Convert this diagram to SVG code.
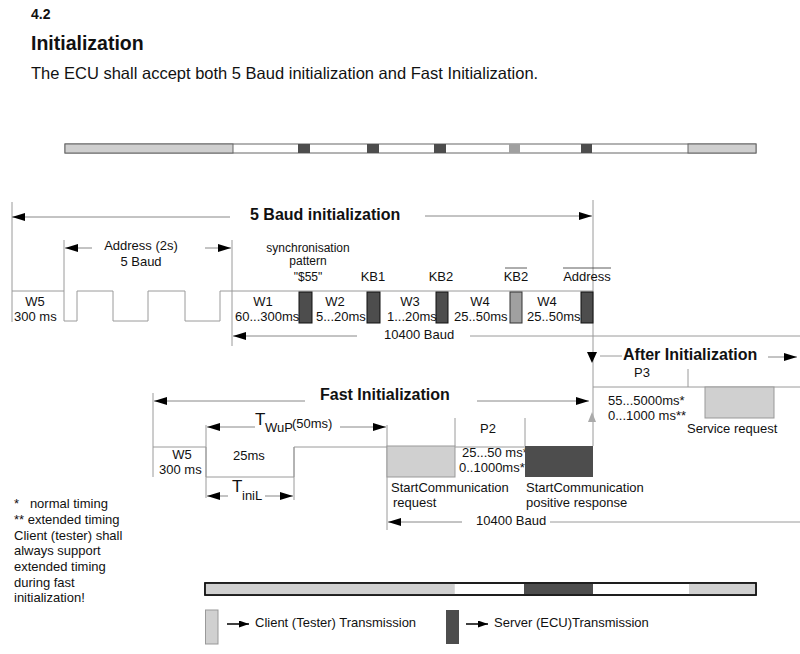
<svg xmlns="http://www.w3.org/2000/svg" width="800" height="654" viewBox="0 0 800 654">
<defs>
<marker id="ah" markerUnits="userSpaceOnUse" markerWidth="13" markerHeight="8" refX="13" refY="4" orient="auto">
<path d="M0,0 L13,4 L0,8 z" fill="#000"/>
</marker>
<marker id="ahs" markerUnits="userSpaceOnUse" markerWidth="10" markerHeight="7" refX="10" refY="3.5" orient="auto">
<path d="M0,0 L10,3.5 L0,7 z" fill="#000"/>
</marker>
<style>
text{font-family:"Liberation Sans",Arial,sans-serif;fill:#111}
.t{font-size:13px}
.s{font-size:12px}
.b{font-size:16px;font-weight:bold}
.m{text-anchor:middle}
.ln{stroke:#9a9a9a;stroke-width:1;fill:none}
.ar{stroke:#888;stroke-width:1;fill:none;marker-end:url(#ah)}
.dk{fill:#4d4d4d;stroke:#111;stroke-width:1}
.md{fill:#a0a0a0;stroke:#333;stroke-width:1}
.lt{fill:#d0d0d0;stroke:#999;stroke-width:1}
</style>
</defs>
<rect width="800" height="654" fill="#fff"/>

<g id="header">
<text x="31" y="19" style="font-size:14px;font-weight:bold">4.2</text>
<text x="31" y="50" style="font-size:19.5px;font-weight:bold">Initialization</text>
<text x="31" y="79" style="font-size:16.5px">The ECU shall accept both 5 Baud initialization and Fast Initialization.</text>
</g>

<g id="top-bar">
<rect x="65" y="144" width="691" height="9" fill="#fff" stroke="#666"/>
<rect x="65" y="144" width="168" height="9" fill="#cfcfcf" stroke="#666"/>
<rect x="298" y="144" width="12" height="9" fill="#4d4d4d"/>
<rect x="367" y="144" width="12" height="9" fill="#4d4d4d"/>
<rect x="434" y="144" width="12" height="9" fill="#4d4d4d"/>
<rect x="509" y="144" width="11" height="9" fill="#a0a0a0"/>
<rect x="581" y="144" width="11" height="9" fill="#4d4d4d"/>
<rect x="688" y="144" width="68" height="9" fill="#cfcfcf" stroke="#666"/>
</g>

<g id="five-baud-timeline">
<line class="ln" x1="12" y1="202" x2="12" y2="322"/>
<line class="ln" x1="64" y1="240" x2="64" y2="291"/>
<line class="ln" x1="232" y1="240" x2="232" y2="346"/>
<line class="ln" x1="593" y1="200" x2="593" y2="446"/>
<polyline class="ln" points="12,291 64,291 64,321 77,321 77,291 113,291 113,321 148,321 148,291 185,291 185,321 220,321 220,291 593,291"/>
<line class="ln" x1="470" y1="336" x2="800" y2="336"/>
<text class="b" x="250" y="220">5 Baud initialization</text>
<text class="t m" x="141" y="250">Address (2s)</text>
<text class="t m" x="141" y="266">5 Baud</text>
<text class="t m" x="35" y="306">W5</text>
<text class="t" x="14" y="321">300 ms</text>
</g>

<g id="sync-pattern">
<rect class="dk" x="299" y="292" width="13" height="31"/>
<text class="s m" x="308" y="252">synchronisation</text>
<text class="s m" x="308" y="265">pattern</text>
<text class="s m" x="308" y="281">"$55"</text>
<text class="t m" x="263" y="306">W1</text>
<text class="t" x="235" y="321">60...300ms</text>
</g>

<g id="kb1">
<rect class="dk" x="367" y="292" width="13" height="31"/>
<text class="t m" x="373" y="281">KB1</text>
<text class="t m" x="335" y="306">W2</text>
<text class="t" x="316" y="321">5...20ms</text>
</g>

<g id="kb2">
<rect class="dk" x="436" y="292" width="12" height="31"/>
<text class="t m" x="441" y="281">KB2</text>
<text class="t m" x="410" y="306">W3</text>
<text class="t" x="387" y="321">1...20ms</text>
</g>

<g id="kb2-inverted">
<rect class="md" x="510" y="292" width="12" height="31"/>
<text class="t m" x="516" y="281">KB2</text>
<line x1="505" y1="268" x2="527" y2="268" stroke="#333" stroke-width="0.8"/>
<text class="t m" x="480" y="306">W4</text>
<text class="t" x="454" y="321">25..50ms</text>
</g>

<g id="address-inverted">
<rect class="dk" x="581" y="292" width="12" height="31"/>
<text class="t m" x="587" y="281">Address</text>
<line x1="563" y1="268" x2="611" y2="268" stroke="#333" stroke-width="0.8"/>
<text class="t m" x="547" y="306">W4</text>
<text class="t" x="527" y="321">25..50ms</text>
</g>

<g id="baud-10400-top">
<text class="t" x="384" y="339">10400 Baud</text>
</g>

<g id="after-initialization">
<polygon points="587,352 597,352 592,363" fill="#000"/>
<line class="ln" x1="600" y1="356" x2="622" y2="356"/>
<text class="b" x="623" y="360">After Initialization</text>
<text class="t m" x="642" y="377">P3</text>
<line class="ln" x1="688" y1="369" x2="688" y2="387"/>
<line class="ln" x1="593" y1="387" x2="800" y2="387"/>
<text class="t" x="608" y="405">55...5000ms*</text>
<text class="t" x="608" y="420">0...1000 ms**</text>
<polygon points="592,412 596,422 588,422" fill="#aaa"/>
</g>

<g id="service-request">
<rect class="lt" x="705" y="387" width="69" height="31"/>
<text class="t" x="687" y="433">Service request</text>
</g>

<g id="fast-init-timeline">
<line class="ln" x1="153" y1="393" x2="153" y2="477"/>
<line class="ln" x1="206" y1="425" x2="206" y2="498"/>
<line class="ln" x1="294" y1="447" x2="294" y2="500"/>
<line class="ln" x1="387" y1="425" x2="387" y2="530"/>
<polyline class="ln" points="153,447 206,447 206,477 294,477 294,447 593,447"/>
<line class="ln" x1="455" y1="418" x2="455" y2="446"/>
<line class="ln" x1="525" y1="418" x2="525" y2="446"/>
<line class="ln" x1="550" y1="522" x2="800" y2="522"/>
<text class="b" x="320" y="400">Fast Initialization</text>
<text class="t m" x="182" y="459">W5</text>
<text class="t" x="159" y="474">300 ms</text>
<text x="255" y="425" style="font-size:17px">T</text>
<text class="t" x="265" y="432">WuP</text>
<text class="t" x="292" y="428">(50ms)</text>
<text class="t" x="233" y="460">25ms</text>
<text x="232" y="492" style="font-size:17px">T</text>
<text class="t" x="242" y="500">iniL</text>
<text class="t m" x="488" y="433">P2</text>
<text class="t" x="462" y="457">25...50 ms*</text>
<text class="t" x="459" y="472">0..1000ms**</text>
<text class="t" x="476" y="525">10400 Baud</text>
</g>

<g id="start-communication-request">
<rect class="lt" x="387" y="446" width="68" height="31"/>
<text class="t" x="391" y="492">StartCommunication</text>
<text class="t" x="393" y="507">request</text>
</g>

<g id="start-communication-response">
<rect x="525" y="446" width="68" height="31" fill="#4d4d4d"/>
<text class="t" x="526" y="492">StartCommunication</text>
<text class="t" x="526" y="507">positive response</text>
</g>

<g id="notes">
<text class="t" x="14" y="508" xml:space="preserve">*   normal timing</text>
<text class="t" x="14" y="524">** extended timing</text>
<text class="t" x="14" y="540">Client (tester) shall</text>
<text class="t" x="14" y="555">always support</text>
<text class="t" x="14" y="571">extended timing</text>
<text class="t" x="14" y="587">during fast</text>
<text class="t" x="14" y="602">initialization!</text>
</g>

<g id="bottom-bar">
<rect x="205" y="583" width="551" height="12" fill="#fff" stroke="#111" stroke-width="1.5"/>
<rect x="205.75" y="583.75" width="249" height="10.5" fill="#d0d0d0"/>
<rect x="524" y="583.75" width="69" height="10.5" fill="#4d4d4d"/>
<rect x="689" y="583.75" width="66.25" height="10.5" fill="#d0d0d0"/>
<rect x="205" y="583" width="551" height="12" fill="none" stroke="#111" stroke-width="1.5"/>
</g>

<g id="legend-client">
<rect class="lt" x="205.5" y="610" width="12.5" height="34"/>
<text class="t" x="255" y="627">Client (Tester) Transmission</text>
</g>

<g id="legend-server">
<rect x="446" y="610" width="13" height="34" fill="#4d4d4d"/>
<text class="t" x="494" y="627">Server (ECU)Transmission</text>
</g>

<g id="connectors">
<line class="ar" x1="230" y1="217" x2="12" y2="217"/>
<line class="ar" x1="425" y1="216" x2="592" y2="216"/>
<line class="ar" x1="92" y1="248" x2="65" y2="248"/>
<line class="ar" x1="205" y1="248" x2="231" y2="248"/>
<line class="ar" x1="357" y1="336" x2="233" y2="336"/>
<line class="ar" x1="768" y1="357" x2="797" y2="357"/>
<line class="ar" x1="305" y1="401" x2="154" y2="401"/>
<line class="ar" x1="477" y1="401" x2="589" y2="401"/>
<line class="ar" x1="255" y1="427" x2="207" y2="427"/>
<line class="ar" x1="340" y1="427" x2="386" y2="427"/>
<line class="ar" x1="228" y1="496" x2="207" y2="496"/>
<line class="ar" x1="265" y1="496" x2="293" y2="496"/>
<line class="ar" x1="462" y1="522" x2="388" y2="522"/>
<line x1="227" y1="624" x2="249" y2="624" stroke="#000" stroke-width="1.5" marker-end="url(#ahs)"/>
<line x1="466" y1="624" x2="488" y2="624" stroke="#000" stroke-width="1.5" marker-end="url(#ahs)"/>
</g>
</svg>
